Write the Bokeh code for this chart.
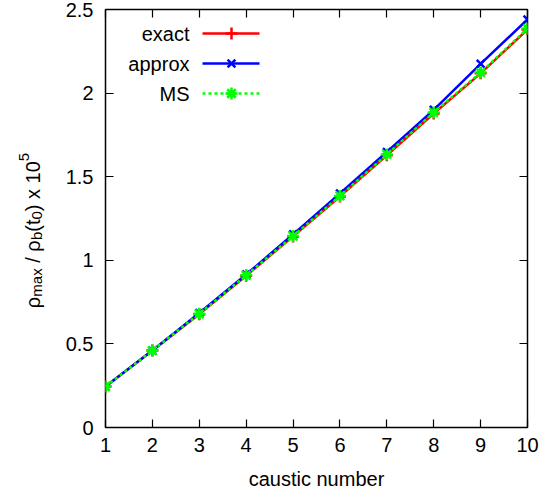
import numpy as np
from bokeh.plotting import figure
from bokeh.layouts import row
from bokeh.models import LinearAxis, Range1d, FixedTicker
from bokeh.core.properties import value
from bokeh.embed import file_html
from bokeh.resources import INLINE

# ---- data ----
caustic = [1, 2, 3, 4, 5, 6, 7, 8, 9, 10]
exact = [0.245, 0.46, 0.678, 0.908, 1.143, 1.382, 1.628, 1.878, 2.118, 2.38]
approx = [0.245, 0.46, 0.685, 0.915, 1.155, 1.40, 1.648, 1.90, 2.175, 2.44]
ms = [0.245, 0.46, 0.68, 0.91, 1.145, 1.385, 1.633, 1.884, 2.123, 2.386]
series_names = ["exact", "approx", "MS"]
x_ticks = [1, 2, 3, 4, 5, 6, 7, 8, 9, 10]
y_ticks = [0, 0.5, 1, 1.5, 2, 2.5]
y_tick_labels = {0: "0", 0.5: "0.5", 1: "1", 1.5: "1.5", 2: "2", 2.5: "2.5"}

FONT = "Liberation Sans"
FW, FH = 422, 418
LAB_W = 45                      # width of the strip holding the y-axis title
FRAME_L_IMG, FRAME_T_IMG = 105, 9
BORDER_B = 66
TOTAL_H = FRAME_T_IMG + FH + BORDER_B

XMIN, XMAX, YMIN, YMAX = 1, 10, 0, 2.5


def px2x(img_x):
    return XMIN + (img_x - FRAME_L_IMG) * (XMAX - XMIN) / FW


def px2y(img_y):
    return YMAX - (img_y - FRAME_T_IMG) * (YMAX - YMIN) / FH


p = figure(frame_width=FW, frame_height=FH,
           x_range=Range1d(XMIN, XMAX), y_range=Range1d(YMIN, YMAX),
           output_backend="svg", toolbar_location=None, title=None,
           min_border_left=FRAME_L_IMG - LAB_W, min_border_right=13,
           min_border_top=FRAME_T_IMG, min_border_bottom=BORDER_B,
           background_fill_color="white", border_fill_color="white")
p.xgrid.visible = False
p.ygrid.visible = False
p.outline_line_color = "black"
p.outline_line_width = 1.5
p.outline_line_alpha = 1.0

for ax in (p.xaxis[0], p.yaxis[0]):
    ax.axis_line_color = None
    ax.major_tick_in = 8
    ax.major_tick_out = 0
    ax.minor_tick_line_color = None
    ax.major_tick_line_width = 1.2
    ax.major_label_text_font = FONT
    ax.major_label_text_font_size = "20px"
    ax.major_label_text_color = "black"

p.xaxis[0].ticker = FixedTicker(ticks=x_ticks)
p.yaxis[0].ticker = FixedTicker(ticks=y_ticks)
p.yaxis[0].major_label_overrides = y_tick_labels
p.xaxis[0].major_label_standoff = 10
p.yaxis[0].major_label_standoff = 12
p.xaxis[0].axis_label = "caustic number"
p.xaxis[0].axis_label_text_font = FONT
p.xaxis[0].axis_label_text_font_size = "20px"
p.xaxis[0].axis_label_text_font_style = "normal"
p.xaxis[0].axis_label_text_color = "black"
p.xaxis[0].axis_label_standoff = 13

# mirrored ticks on top and right
top = LinearAxis(ticker=FixedTicker(ticks=x_ticks))
right = LinearAxis(ticker=FixedTicker(ticks=y_ticks))
for ax in (top, right):
    ax.axis_line_color = None
    ax.major_tick_in = 8
    ax.major_tick_out = 0
    ax.minor_tick_line_color = None
    ax.major_tick_line_width = 1.2
    ax.major_label_text_font_size = "0px"
    ax.major_label_standoff = 0
p.add_layout(top, "above")
p.add_layout(right, "right")

# ---- series ----
LW = 2.5
p.line(caustic, exact, line_color="red", line_width=LW)
p.scatter(caustic, exact, marker="cross", size=12, line_color="red", line_width=LW)
p.line(caustic, approx, line_color="blue", line_width=LW)
p.scatter(caustic, approx, marker="x", size=11, line_color="blue", line_width=LW)
p.line(caustic, ms, line_color="#00ff00", line_width=LW, line_dash="3 3")
p.scatter(caustic, ms, marker="asterisk", size=12, line_color="#00ff00", line_width=LW)

# ---- legend (gnuplot style: text then sample) ----
rows_img = [33, 63, 93]
styles = [
    dict(color="red", dash="solid", marker="cross", size=12),
    dict(color="blue", dash="solid", marker="x", size=11),
    dict(color="#00ff00", dash="3 3", marker="asterisk", size=12),
]
for name, ry, st in zip(series_names, rows_img, styles):
    yy = px2y(ry)
    p.text(x=[px2x(189)], y=[yy], text=[name], text_font=value(FONT),
           text_font_size="20px", text_align="right", text_baseline="middle",
           text_color="black")
    p.line([px2x(202), px2x(259)], [yy, yy], line_color=st["color"],
           line_width=LW, line_dash=st["dash"])
    p.scatter([px2x(231)], [yy], marker=st["marker"], size=st["size"],
              line_color=st["color"], line_width=LW)

# ---- y-axis title strip (rotated, with sub/superscripts) ----
lab = figure(frame_width=LAB_W, frame_height=TOTAL_H, x_range=Range1d(0, LAB_W),
             y_range=Range1d(0, TOTAL_H), output_backend="svg", title=None,
             toolbar_location=None, x_axis_type=None, y_axis_type=None,
             min_border=0, min_border_left=0, min_border_right=0,
             min_border_top=0, min_border_bottom=0,
             background_fill_color="white", border_fill_color="white")
lab.outline_line_color = None
lab.xgrid.visible = False
lab.ygrid.visible = False

MAIN, SUB = 20, 15
pieces = [
    ("\u03c1", MAIN, 0), ("max", SUB, 1), (" / \u03c1", MAIN, 0), ("b", SUB, 1),
    ("(t", MAIN, 0), ("0", SUB, 1), (") x 10", MAIN, 0), ("5", SUB, -1),
]
adv = {"\u03c1": 0.577, "m": 0.833, "a": 0.556, "x": 0.5, " ": 0.278, "/": 0.278,
       "b": 0.556, "(": 0.333, "t": 0.278, "0": 0.556, ")": 0.333, "1": 0.556,
       "5": 0.556}
widths = [sum(adv[c] for c in s) * fs for s, fs, _ in pieces]
total = sum(widths)
center_img = 221
cur = center_img + total / 2
base_img_x = 32
for (s, fs, shift), w in zip(pieces, widths):
    bx = base_img_x + (4 if shift == 1 else (-9 if shift == -1 else 0))
    lead = (len(s) - len(s.lstrip())) * adv[" "] * fs
    lab.text(x=[bx], y=[TOTAL_H - (cur - lead)], text=[s.strip()], angle=np.pi / 2,
             text_font=value(FONT), text_font_size=f"{fs}px",
             text_align="left", text_baseline="alphabetic", text_color="black")
    cur -= w

layout = row(lab, p, spacing=0)
open("out.html", "w").write(file_html(layout, INLINE))
